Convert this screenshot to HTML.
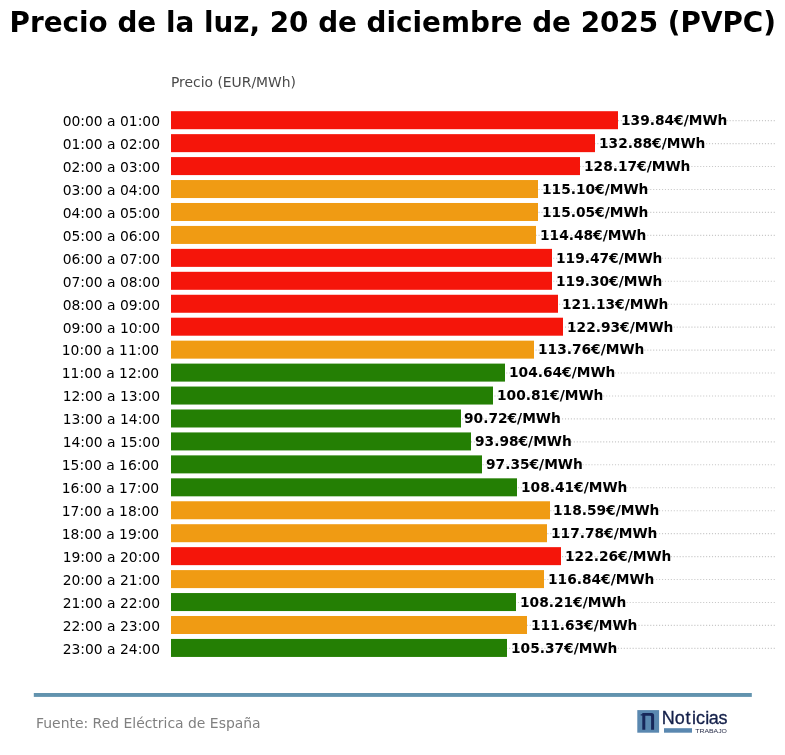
<!DOCTYPE html>
<html lang="es"><head><meta charset="utf-8"><title>Precio de la luz</title>
<style>
html,body{margin:0;padding:0;background:#fff;}
body{width:785px;height:755px;overflow:hidden;}
svg{display:block;}
text{font-family:"DejaVu Sans","Liberation Sans",sans-serif;}
.t{font-size:27.83px;font-weight:bold;fill:#000;}
.s{font-size:13.89px;fill:#4a4a4a;}
.k{font-size:13.89px;fill:#000;}
.v{font-size:13.78px;font-weight:bold;fill:#000;}
.f{font-size:13.93px;fill:#808080;}
.g{stroke:#c9c9c9;stroke-width:1.11;stroke-dasharray:1.11 1.83;}
</style></head><body>
<svg width="785" height="755" viewBox="0 0 785 755">
<rect width="785" height="755" fill="#ffffff"/>
<text class="t" x="392.8" y="31.6" text-anchor="middle">Precio de la luz, 20 de diciembre de 2025 (PVPC)</text>
<text class="s" x="171.0" y="87">Precio (EUR/MWh)</text>

<line class="g" x1="171.0" y1="120.63" x2="775.5" y2="120.63"/>
<line class="g" x1="171.0" y1="143.58" x2="775.5" y2="143.58"/>
<line class="g" x1="171.0" y1="166.52" x2="775.5" y2="166.52"/>
<line class="g" x1="171.0" y1="189.47" x2="775.5" y2="189.47"/>
<line class="g" x1="171.0" y1="212.41" x2="775.5" y2="212.41"/>
<line class="g" x1="171.0" y1="235.36" x2="775.5" y2="235.36"/>
<line class="g" x1="171.0" y1="258.30" x2="775.5" y2="258.30"/>
<line class="g" x1="171.0" y1="281.25" x2="775.5" y2="281.25"/>
<line class="g" x1="171.0" y1="304.19" x2="775.5" y2="304.19"/>
<line class="g" x1="171.0" y1="327.13" x2="775.5" y2="327.13"/>
<line class="g" x1="171.0" y1="350.08" x2="775.5" y2="350.08"/>
<line class="g" x1="171.0" y1="373.03" x2="775.5" y2="373.03"/>
<line class="g" x1="171.0" y1="395.97" x2="775.5" y2="395.97"/>
<line class="g" x1="171.0" y1="418.92" x2="775.5" y2="418.92"/>
<line class="g" x1="171.0" y1="441.86" x2="775.5" y2="441.86"/>
<line class="g" x1="171.0" y1="464.81" x2="775.5" y2="464.81"/>
<line class="g" x1="171.0" y1="487.75" x2="775.5" y2="487.75"/>
<line class="g" x1="171.0" y1="510.69" x2="775.5" y2="510.69"/>
<line class="g" x1="171.0" y1="533.64" x2="775.5" y2="533.64"/>
<line class="g" x1="171.0" y1="556.58" x2="775.5" y2="556.58"/>
<line class="g" x1="171.0" y1="579.53" x2="775.5" y2="579.53"/>
<line class="g" x1="171.0" y1="602.48" x2="775.5" y2="602.48"/>
<line class="g" x1="171.0" y1="625.42" x2="775.5" y2="625.42"/>
<line class="g" x1="171.0" y1="648.37" x2="775.5" y2="648.37"/>
<rect x="171.0" y="111.20" width="447.00" height="18.0" fill="#f5150a"/>
<text class="k" x="62.7" y="126.02">00:00 a 01:00</text>
<text class="v" x="621" y="125.02">139.84€/MWh</text>
<rect x="171.0" y="134.15" width="424.00" height="18.0" fill="#f5150a"/>
<text class="k" x="62.7" y="148.97">01:00 a 02:00</text>
<text class="v" x="599" y="147.97">132.88€/MWh</text>
<rect x="171.0" y="157.09" width="409.00" height="18.0" fill="#f5150a"/>
<text class="k" x="62.7" y="171.91">02:00 a 03:00</text>
<text class="v" x="584" y="170.91">128.17€/MWh</text>
<rect x="171.0" y="180.04" width="367.00" height="18.0" fill="#f09b13"/>
<text class="k" x="62.7" y="194.86">03:00 a 04:00</text>
<text class="v" x="542" y="193.86">115.10€/MWh</text>
<rect x="171.0" y="202.98" width="367.00" height="18.0" fill="#f09b13"/>
<text class="k" x="62.7" y="217.80">04:00 a 05:00</text>
<text class="v" x="542" y="216.80">115.05€/MWh</text>
<rect x="171.0" y="225.93" width="365.00" height="18.0" fill="#f09b13"/>
<text class="k" x="62.7" y="240.75">05:00 a 06:00</text>
<text class="v" x="540" y="239.75">114.48€/MWh</text>
<rect x="171.0" y="248.87" width="381.00" height="18.0" fill="#f5150a"/>
<text class="k" x="62.7" y="263.69">06:00 a 07:00</text>
<text class="v" x="556" y="262.69">119.47€/MWh</text>
<rect x="171.0" y="271.81" width="381.00" height="18.0" fill="#f5150a"/>
<text class="k" x="62.7" y="286.63">07:00 a 08:00</text>
<text class="v" x="556" y="285.63">119.30€/MWh</text>
<rect x="171.0" y="294.76" width="387.00" height="18.0" fill="#f5150a"/>
<text class="k" x="62.7" y="309.58">08:00 a 09:00</text>
<text class="v" x="562" y="308.58">121.13€/MWh</text>
<rect x="171.0" y="317.70" width="392.00" height="18.0" fill="#f5150a"/>
<text class="k" x="62.7" y="332.52">09:00 a 10:00</text>
<text class="v" x="567" y="331.52">122.93€/MWh</text>
<rect x="171.0" y="340.65" width="363.00" height="18.0" fill="#f09b13"/>
<text class="k" x="61.8" y="355.47">10:00 a 11:00</text>
<text class="v" x="538" y="354.47">113.76€/MWh</text>
<rect x="171.0" y="363.60" width="334.00" height="18.0" fill="#247f04"/>
<text class="k" x="61.8" y="378.42">11:00 a 12:00</text>
<text class="v" x="509" y="377.42">104.64€/MWh</text>
<rect x="171.0" y="386.54" width="322.00" height="18.0" fill="#247f04"/>
<text class="k" x="62.7" y="401.36">12:00 a 13:00</text>
<text class="v" x="497" y="400.36">100.81€/MWh</text>
<rect x="171.0" y="409.49" width="290.00" height="18.0" fill="#247f04"/>
<text class="k" x="62.7" y="424.31">13:00 a 14:00</text>
<text class="v" x="464" y="423.31">90.72€/MWh</text>
<rect x="171.0" y="432.43" width="300.00" height="18.0" fill="#247f04"/>
<text class="k" x="62.7" y="447.25">14:00 a 15:00</text>
<text class="v" x="475" y="446.25">93.98€/MWh</text>
<rect x="171.0" y="455.38" width="311.00" height="18.0" fill="#247f04"/>
<text class="k" x="61.8" y="470.19">15:00 a 16:00</text>
<text class="v" x="486" y="469.19">97.35€/MWh</text>
<rect x="171.0" y="478.32" width="346.00" height="18.0" fill="#247f04"/>
<text class="k" x="61.8" y="493.14">16:00 a 17:00</text>
<text class="v" x="521" y="492.14">108.41€/MWh</text>
<rect x="171.0" y="501.26" width="379.00" height="18.0" fill="#f09b13"/>
<text class="k" x="61.8" y="516.09">17:00 a 18:00</text>
<text class="v" x="553" y="515.09">118.59€/MWh</text>
<rect x="171.0" y="524.21" width="376.00" height="18.0" fill="#f09b13"/>
<text class="k" x="61.8" y="539.03">18:00 a 19:00</text>
<text class="v" x="551" y="538.03">117.78€/MWh</text>
<rect x="171.0" y="547.15" width="390.00" height="18.0" fill="#f5150a"/>
<text class="k" x="62.7" y="561.98">19:00 a 20:00</text>
<text class="v" x="565" y="560.98">122.26€/MWh</text>
<rect x="171.0" y="570.10" width="373.00" height="18.0" fill="#f09b13"/>
<text class="k" x="62.7" y="584.92">20:00 a 21:00</text>
<text class="v" x="548" y="583.92">116.84€/MWh</text>
<rect x="171.0" y="593.05" width="345.00" height="18.0" fill="#247f04"/>
<text class="k" x="62.7" y="607.87">21:00 a 22:00</text>
<text class="v" x="520" y="606.87">108.21€/MWh</text>
<rect x="171.0" y="615.99" width="356.00" height="18.0" fill="#f09b13"/>
<text class="k" x="62.7" y="630.81">22:00 a 23:00</text>
<text class="v" x="531" y="629.81">111.63€/MWh</text>
<rect x="171.0" y="638.94" width="336.00" height="18.0" fill="#247f04"/>
<text class="k" x="62.7" y="653.76">23:00 a 24:00</text>
<text class="v" x="511" y="652.76">105.37€/MWh</text>
<rect x="33.8" y="693" width="718" height="3.9" fill="#6293ae"/>
<text class="f" x="36.0" y="727.8">Fuente: Red Eléctrica de España</text>
<g id="logo">
<rect x="637.3" y="710.1" width="21.8" height="22.6" fill="#5a88b0"/>
<path d="M642.3 729.8V715.4h-1.6v-1.2h1.6V713h9.3q2.5 0 2.5 2.6v14.2h-3v-13.3q0-0.8-0.8-0.8h-5v14.1z" fill="#17275a"/>
<text x="661.7 674.8 685.6 691.9 695.95 705.25 708.8 718.6" y="723.7" style="font-family:'Liberation Sans',sans-serif;font-size:18px;fill:#14204a;stroke:#14204a;stroke-width:0.3px;">Noticias</text>
<rect x="664" y="728.2" width="28" height="4.5" fill="#5a88b0"/>
<text x="695.3" y="732.6" textLength="31.6" lengthAdjust="spacingAndGlyphs" style="font-family:'Liberation Sans',sans-serif;font-size:6.1px;fill:#262c48;">TRABAJO</text>
</g>
</svg>
</body></html>
